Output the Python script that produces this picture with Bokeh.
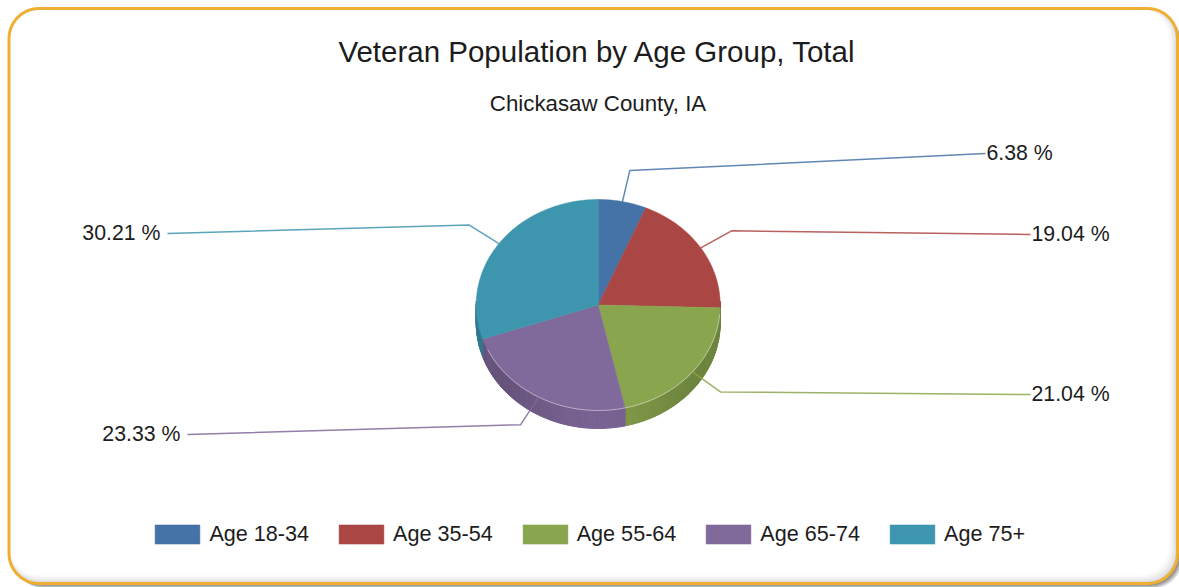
import math
from bokeh.plotting import figure
from bokeh.models import Range1d, Legend, LegendItem
from bokeh.core.properties import value
from bokeh.embed import file_html
from bokeh.resources import INLINE

# ---- data ----
categories = ["Age 18-34", "Age 35-54", "Age 55-64", "Age 65-74", "Age 75+"]
shares = [6.38, 19.04, 21.04, 23.33, 30.21]
colors = ["#4572a7", "#aa4643", "#89a54e", "#80699b", "#3d96ae"]
title_text = "Veteran Population by Age Group, Total"
subtitle_text = "Chickasaw County, IA"

# ---- layout (page pixels) ----
W, H = 1179, 587
CX, CY, RX, RY, DEPTH = 597.7, 304.5, 122, 105.5, 18
ELBOW = 1.3
label_end_x = [985, 1030, 1030, 187, 167]
label_end_y = [153, 234, 394, 434, 233]
FONT = value("Liberation Sans")
TEXT = "#1c1c1c"

p = figure(width=W, height=H, x_range=Range1d(0, W), y_range=Range1d(H, 0),
           output_backend="svg", toolbar_location=None, min_border=0,
           background_fill_color="white", border_fill_color="white", outline_line_color=None)
p.xaxis.visible = False
p.yaxis.visible = False
p.grid.visible = False


def rrect(x0, y0, x1, y1, r, n=14):
    xs, ys = [], []
    for cx, cy, a0 in [(x1 - r, y0 + r, -90), (x1 - r, y1 - r, 0), (x0 + r, y1 - r, 90), (x0 + r, y0 + r, 180)]:
        for i in range(n + 1):
            a = math.radians(a0 + 90 * i / n)
            xs.append(cx + r * math.cos(a))
            ys.append(cy + r * math.sin(a))
    return xs + xs[:1], ys + ys[:1]


# card: outer shadow, soft inner shade at lower right, white fill, orange border
for off, alpha in [(5, 0.18), (4, 0.22), (3, 0.28), (2, 0.32)]:
    xs, ys = rrect(9 + off, 9 + off, 1177 + off, 583 + off, 30)
    p.patch(xs, ys, fill_color="#606060", fill_alpha=alpha, line_color=None)
for inset, shade_col in [(0, "#d8d8d8"), (2, "#e6e6e6"), (4, "#f1f1f1"), (6, "#f9f9f9"), (8, "#ffffff")]:
    xs, ys = rrect(8.5, 8, 1177 - inset, 583 - inset, 30)
    p.patch(xs, ys, fill_color=shade_col, line_color=None)
xs, ys = rrect(8.5, 8, 1177, 583, 30)
p.line(xs, ys, line_color="#efae34", line_width=3)

p.text([597], [51], text=[title_text], text_font=FONT, text_font_size="29.5px", text_color=TEXT,
       text_align="center", text_baseline="middle")
p.text([597.5], [103], text=[subtitle_text], text_font=FONT, text_font_size="22.3px", text_color=TEXT,
       text_align="center", text_baseline="middle")


def pt(deg, dy=0.0, k=1.0):
    a = math.radians(deg)
    return CX + k * RX * math.sin(a), CY - k * RY * math.cos(a) + dy


def shade(hex_color, f):
    rgb = [int(hex_color[i:i + 2], 16) for i in (1, 3, 5)]
    return "#%02x%02x%02x" % tuple(min(255, int(c * f)) for c in rgb)


total = sum(shares)
edges = [0.0]
for s in shares:
    edges.append(edges[-1] + s / total * 360)

# wall of the disc, visible between 90 and 270 degrees
STEP = 1.5
for i, col in enumerate(colors):
    a0, a1 = max(edges[i], 88), min(edges[i + 1], 272)
    if a1 <= a0:
        continue
    n = max(1, round((a1 - a0) / STEP))
    for k in range(n):
        s0 = a0 + (a1 - a0) * k / n
        s1 = a0 + (a1 - a0) * (k + 1) / n
        mid = (s0 + s1) / 2
        f = 0.80 + 0.14 * math.cos(math.radians((mid - 180) * 1.6)) ** 2 if abs(mid - 180) < 56 else 0.80
        c = shade(col, f)
        top = [pt(s0), pt(s1)]
        bot = [pt(s1, DEPTH), pt(s0, DEPTH)]
        p.patch([q[0] for q in top + bot], [q[1] for q in top + bot], fill_color=c, line_color=c, line_width=1)

# faces
items = []
for i, (name, col) in enumerate(zip(categories, colors)):
    n = max(4, int((edges[i + 1] - edges[i]) / 1.5))
    arc = [pt(edges[i] + (edges[i + 1] - edges[i]) * j / n) for j in range(n + 1)]
    r = p.patch([CX] + [q[0] for q in arc], [CY] + [q[1] for q in arc], fill_color=col, line_color=col, line_width=0.5)
    items.append(LegendItem(label=name, renderers=[r]))

# pale rim between face and wall
for i, col in enumerate(colors):
    a0, a1 = max(edges[i], 95), min(edges[i + 1], 245)
    if a1 > a0:
        arc = [pt(a0 + (a1 - a0) * j / 40) for j in range(41)]
        p.line([q[0] for q in arc], [q[1] for q in arc], line_color="white", line_alpha=0.45, line_width=1)

# leader lines and value labels
for i, col in enumerate(colors):
    mid = (edges[i] + edges[i + 1]) / 2
    a, b = pt(mid), pt(mid, k=ELBOW)
    p.line([a[0], b[0], label_end_x[i]], [a[1], b[1], label_end_y[i]], line_color=col, line_width=1.5, line_alpha=0.85)
    right = label_end_x[i] > CX
    p.text([label_end_x[i] + (1 if right else -7)], [label_end_y[i] - 1], text=[f"{shares[i]:.2f} %"], text_font=FONT,
           text_font_size="21.3px", text_color=TEXT, text_align="left" if right else "right", text_baseline="middle")

legend = Legend(items=items, orientation="horizontal", location=(149.4, 40), padding=0, margin=0,
                glyph_width=56, glyph_height=24, label_standoff=4, spacing=24, border_line_color=None,
                background_fill_alpha=0, label_text_font="Liberation Sans", label_text_font_size="21.6px",
                label_text_color=TEXT, label_height=24)
p.add_layout(legend, "center")

open("out.html", "w").write(file_html(p, INLINE))
